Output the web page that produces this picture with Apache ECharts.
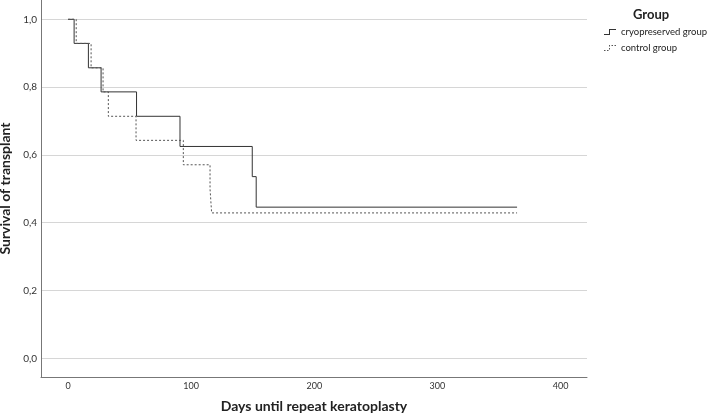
<!DOCTYPE html>
<html>
<head>
<meta charset="utf-8">
<script src="https://cdn.jsdelivr.net/npm/echarts@6/dist/echarts.min.js"></script>
<style>
html,body{margin:0;padding:0;background:#fff;}
#chart{width:708px;height:414px;}
</style>
</head>
<body>
<div id="chart"></div>
<script>
// Kaplan-Meier step data (days, survival)
var cryoDays = [0, 4.9, 16.5, 26.8, 55.6, 90.9, 149.6, 152.8, 364.7];
var cryoSurv = [1, 0.929, 0.857, 0.786, 0.714, 0.625, 0.536, 0.446, 0.446];
var ctrlDays = [0, 6.6, 18.7, 28.4, 32.7, 55.2, 93.6, 115.3, 116.6, 364.7];
var ctrlSurv = [1, 0.929, 0.857, 0.786, 0.714, 0.643, 0.571, 0.5, 0.429, 0.429];
var seriesNames = ['cryopreserved group', 'control group'];
var xTickStep = 100;
var yTickStep = 0.2;

var FONT = 'Lato';
function pairs(xs, ys) { return xs.map(function (x, i) { return [x, ys[i]]; }); }
function onStep(v, step) { var k = v / step; return Math.abs(k - Math.round(k)) < 1e-6; }

var solidIcon = 'path://M0,5L5,5L5,0L12,0L12,1L6,1L6,6L0,6Z';
var dashIcon = 'path://M0,5h1.5v1h-1.5zM3,5h1.5v1h-1.5zM5,3h1v1.5h-1zM5,0h1v1.5h-1zM7.5,0h1.5v1h-1.5zM10.5,0h1.5v1h-1.5z';

var chart = echarts.init(document.getElementById('chart'));
chart.setOption({
  animation: false,
  textStyle: { fontFamily: FONT },
  title: {
    text: 'Group', left: 628, top: 3,
    textStyle: { fontFamily: FONT, fontSize: 13, fontWeight: 'bold', color: '#222' }
  },
  legend: {
    orient: 'vertical', left: 604, top: 27, padding: 0,
    itemWidth: 12, itemHeight: 6, itemGap: 6,
    textStyle: { fontFamily: FONT, fontSize: 9.5, color: '#222' },
    data: [
      { name: seriesNames[0], icon: solidIcon, itemStyle: { color: '#333', borderWidth: 0 } },
      { name: seriesNames[1], icon: dashIcon, itemStyle: { color: '#555', borderWidth: 0 } }
    ]
  },
  grid: { left: 41, right: 121, top: 0, bottom: 37, containLabel: false, outerBoundsMode: 'none' },
  xAxis: {
    type: 'value', min: -22, max: 421.5, splitNumber: 4,
    minInterval: xTickStep, maxInterval: xTickStep,
    name: 'Days until repeat keratoplasty', nameLocation: 'middle', nameGap: 22,
    nameTextStyle: { fontFamily: FONT, fontSize: 14, fontWeight: 'bold', color: '#222' },
    axisLine: { show: true, onZero: false, lineStyle: { color: '#777', width: 1 } },
    axisTick: { show: false },
    splitLine: { show: false },
    axisLabel: {
      fontFamily: FONT, fontSize: 9, color: '#333', margin: 5,
      formatter: function (v) { return onStep(v, xTickStep) ? String(Math.round(v)) : ''; }
    }
  },
  yAxis: {
    type: 'value', min: -0.055, max: 1.057, splitNumber: 5,
    minInterval: yTickStep, maxInterval: yTickStep,
    name: 'Survival of transplant', nameLocation: 'middle', nameGap: 25,
    nameTextStyle: { fontFamily: FONT, fontSize: 14, fontWeight: 'bold', color: '#222' },
    axisLine: { show: true, onZero: false, lineStyle: { color: '#777', width: 1 } },
    axisTick: { show: false },
    splitLine: { show: true, showMinLine: false, showMaxLine: false, lineStyle: { color: '#d6d6d6', width: 1 } },
    axisLabel: {
      fontFamily: FONT, fontSize: 10, color: '#333', margin: 4,
      formatter: function (v) { return onStep(v, yTickStep) ? v.toFixed(1).replace('.', ',') : ''; }
    }
  },
  series: [
    {
      name: seriesNames[0], type: 'line', step: 'end', symbol: 'none', showSymbol: false,
      data: pairs(cryoDays, cryoSurv),
      itemStyle: { color: '#333' },
      lineStyle: { color: '#333', width: 1, type: 'solid' }
    },
    {
      name: seriesNames[1], type: 'line', step: 'end', symbol: 'none', showSymbol: false,
      data: pairs(ctrlDays, ctrlSurv),
      itemStyle: { color: '#555' },
      lineStyle: { color: '#555', width: 1, type: [2, 2] }
    }
  ]
});
</script>
</body>
</html>
